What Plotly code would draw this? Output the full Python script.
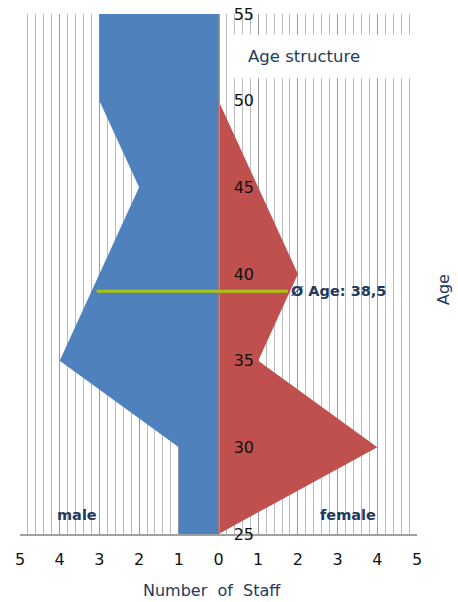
import plotly.graph_objects as go

# Data
ages = [55, 50, 45, 40, 35, 30, 25]
male = [3, 3, 2, 3, 4, 1, 1]
female = [0, 0, 1, 2, 1, 4, 0]
mean_line_y = 39.0          # position of the drawn average line
mean_line_x = [-3.07, 1.75]  # extent of the drawn average line
mean_label = "Ø Age: 38,5"
x_ticks = [-5, -4, -3, -2, -1, 0, 1, 2, 3, 4, 5]
x_ticktext = [str(abs(v)) for v in x_ticks]
y_ticks = [25, 30, 35, 40, 45, 50, 55]

NAVY = "#1F3A5F"
FONT = "DejaVu Sans"

fig = go.Figure()
fig.add_trace(go.Scatter(
    x=[-v for v in male], y=ages, mode="lines", fill="tozerox",
    fillcolor="#4F81BD", line=dict(width=0, color="#4F81BD"),
    hoverinfo="skip", showlegend=False))
fig.add_trace(go.Scatter(
    x=female, y=ages, mode="lines", fill="tozerox",
    fillcolor="#C0504D", line=dict(width=0, color="#C0504D"),
    hoverinfo="skip", showlegend=False))
fig.add_trace(go.Scatter(
    x=mean_line_x, y=[mean_line_y, mean_line_y], mode="lines",
    line=dict(width=3, color="#A9C414"), hoverinfo="skip", showlegend=False))

fig.update_layout(
    width=458, height=602,
    margin=dict(l=20, r=41, t=14, b=68, autoexpand=False),
    paper_bgcolor="white", plot_bgcolor="white",
    font=dict(family=FONT, size=15, color="#111111"),
    xaxis=dict(
        range=[-5, 5], tickmode="array", tickvals=x_ticks, ticktext=x_ticktext,
        showgrid=True, gridcolor="#999999", gridwidth=1.3,
        minor=dict(tickmode="linear", tick0=0, dtick=0.2, showgrid=True,
                   gridcolor="#BBBBBB", gridwidth=1.2),
        zeroline=False, showline=True, linecolor="#A0A0A0", linewidth=1.5,
        ticks="", ticklabelstandoff=10, automargin=False,
        tickfont=dict(family=FONT, size=16, color="#111111"),
        fixedrange=True),
    yaxis=dict(
        range=[25, 55], tickmode="array", tickvals=y_ticks,
        anchor="free", position=0.5, side="right",
        showgrid=False, zeroline=False, showline=True,
        linecolor="#9A9A9A", linewidth=1,
        ticks="", ticklabelstandoff=11, automargin=False,
        tickfont=dict(family=FONT, size=16, color="#111111"),
        fixedrange=True),
    shapes=[dict(type="rect", xref="x", yref="y", x0=0.22, x1=5.05,
                 y0=51.3, y1=53.8, fillcolor="white", line=dict(width=0),
                 layer="above")],
    annotations=[
        dict(text="Age structure", x=0.68, y=52.52, xref="x", yref="y",
             xanchor="left", yanchor="middle", showarrow=False,
             font=dict(family=FONT, size=16.5, color=NAVY)),
        dict(text="<b>male</b>", x=-4.12, y=26.09, xref="x", yref="y",
             xanchor="left", yanchor="middle", showarrow=False,
             font=dict(family=FONT, size=14.5, color=NAVY)),
        dict(text="<b>female</b>", x=2.5, y=26.09, xref="x", yref="y",
             xanchor="left", yanchor="middle", showarrow=False,
             font=dict(family=FONT, size=14.5, color=NAVY)),
        dict(text="<b>" + mean_label + "</b>", x=1.78, y=mean_line_y,
             xref="x", yref="y", xanchor="left", yanchor="middle",
             showarrow=False, font=dict(family=FONT, size=14.5, color=NAVY)),
        dict(text="Number  of  Staff", x=(212 - 20) / 397, y=(534 - 590) / 520,
             xref="paper", yref="paper", xanchor="center", yanchor="middle",
             showarrow=False, font=dict(family=FONT, size=16, color=NAVY)),
        dict(text="Age", x=(443 - 20) / 397, y=(534 - 290) / 520,
             xref="paper", yref="paper", xanchor="center", yanchor="middle",
             textangle=-90, showarrow=False,
             font=dict(family=FONT, size=16, color=NAVY)),
    ],
)

fig.write_html("out.html", config={"displayModeBar": False},
               post_script="document.body.style.margin='0';"
                           "document.body.style.overflow='hidden';")
